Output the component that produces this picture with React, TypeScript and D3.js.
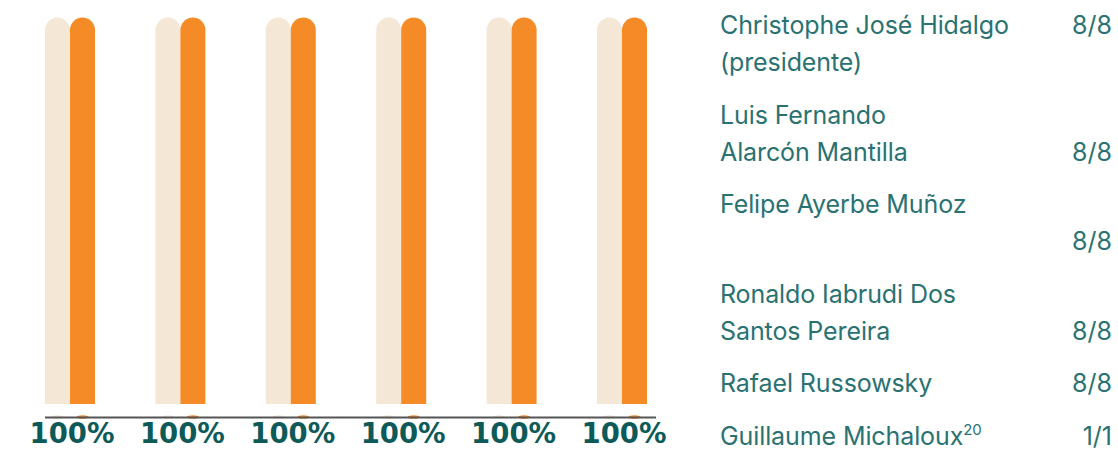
import React, { useEffect, useRef } from "react";
import * as d3 from "d3";

// six sessions, each one shows the maximum (beige) and the attendance (orange)
const sessions = ["S1", "S2", "S3", "S4", "S5", "S6"];
const maxValues = [100, 100, 100, 100, 100, 100];
const attendance = [100, 100, 100, 100, 100, 100];
const pctLabels = ["100%", "100%", "100%", "100%", "100%", "100%"];

// board members, one row each; the value sits on line valueLine
const memberLines = [
  ["Christophe José Hidalgo", "(presidente)"],
  ["Luis Fernando", "Alarcón Mantilla"],
  ["Felipe Ayerbe Muñoz", ""],
  ["Ronaldo Iabrudi Dos", "Santos Pereira"],
  ["Rafael Russowsky"],
  ["Guillaume Michaloux"],
];
const memberNotes = ["", "", "", "", "", "20"];
const memberValues = ["8/8", "8/8", "8/8", "8/8", "8/8", "1/1"];
const valueLine = [0, 1, 1, 1, 0, 0];

const W = 1118;
const H = 449;

function topRounded(x: number, y: number, w: number, h: number) {
  const r = w / 2;
  return `M${x},${y + h}V${y + r}A${r},${r} 0 0 1 ${x + w},${y + r}V${y + h}Z`;
}

export default function App() {
  const ref = useRef<SVGSVGElement>(null);

  useEffect(() => {
    const svg = d3.select(ref.current);
    svg.selectAll("*").remove();

    const beige = "#f5e7d5";
    const orange = "#f58b26";
    const barW = 25;
    const baseY = 404;

    const x = d3.scalePoint().domain(sessions).range([70, 622]);
    const sub = d3.scaleBand().domain(["max", "att"]).range([-barW, barW]);
    const y = d3.scaleLinear().domain([0, 100]).range([baseY, 17.5]);

    const series = [
      { key: "max", values: maxValues, color: beige },
      { key: "att", values: attendance, color: orange },
    ];

    const g = svg.append("g");
    series.forEach((s) => {
      g.selectAll(`.bar-${s.key}`).data(s.values).join("path")
        .attr("class", `bar-${s.key}`)
        .attr("fill", s.color)
        .attr("d", (d, i) => topRounded(x(sessions[i])! + sub(s.key)!, y(d), sub.bandwidth(), y(0) - y(d)));
      // little round feet peeking above the axis line
      g.selectAll(`.foot-${s.key}`).data(s.values).join("ellipse")
        .attr("class", `foot-${s.key}`)
        .attr("cx", (d, i) => x(sessions[i])! + sub(s.key)! + sub.bandwidth() / 2)
        .attr("cy", 417).attr("rx", 6).attr("ry", 1.8)
        .attr("fill", s.color);
    });

    g.append("line")
      .attr("x1", 45).attr("x2", 656)
      .attr("y1", 417.5).attr("y2", 417.5)
      .attr("stroke", "#555").attr("stroke-width", 2);

    g.selectAll(".pct").data(pctLabels).join("text")
      .attr("class", "pct")
      .attr("x", (d, i) => x(sessions[i])! + 2)
      .attr("y", 443)
      .attr("text-anchor", "middle")
      .attr("font-family", "DejaVu Sans, sans-serif")
      .attr("font-weight", "bold")
      .attr("font-size", 27.5)
      .attr("fill", "#0d5a58")
      .text((d) => d);

    // member table
    const teal = "#2a7272";
    const font = "Inter, sans-serif";
    const fs = 25;
    let by = 34;
    const t = svg.append("g");
    memberLines.forEach((lines, r) => {
      lines.forEach((line, li) => {
        if (line) {
          const txt = t.append("text")
            .attr("x", 720).attr("y", by)
            .attr("font-family", font).attr("font-size", fs)
            .attr("letter-spacing", -0.1)
            .attr("fill", teal)
            .text(line);
          if (li === lines.length - 1 && memberNotes[r]) {
            txt.append("tspan").attr("dy", -10).attr("font-size", 15).text(memberNotes[r]);
          }
        }
        if (li === valueLine[r]) {
          t.append("text")
            .attr("x", 1112).attr("y", by)
            .attr("text-anchor", "end")
            .attr("font-family", font).attr("font-size", fs)
            .attr("fill", teal)
            .text(memberValues[r]);
        }
        if (li < lines.length - 1) by += 37;
      });
      by += 52.5;
    });
  }, []);

  return (
    <svg ref={ref} width={W} height={H}
      style={{ position: "absolute", left: 0, top: 0, background: "#fff" }} />
  );
}
